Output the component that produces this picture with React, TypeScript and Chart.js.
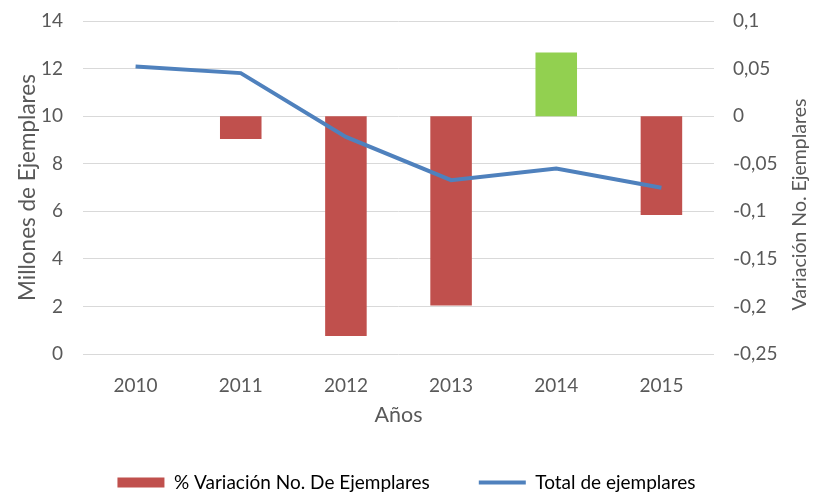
import React, { useEffect, useRef } from "react";
import { Chart, registerables } from "chart.js";

Chart.register(...registerables);

const categories = ["2010", "2011", "2012", "2013", "2014", "2015"];
const variacion: (number | null)[] = [null, -0.024, -0.231, -0.199, 0.067, -0.104];
const totalEjemplares = [12.09, 11.81, 9.13, 7.31, 7.8, 6.99];
const barColors = ["#C0504D", "#C0504D", "#C0504D", "#C0504D", "#92D050", "#C0504D"];

const barLabel = "% Variación No. De Ejemplares";
const lineLabel = "Total de ejemplares";
const leftTitle = "Millones de Ejemplares";
const rightTitle = "Variación No. Ejemplares";
const xTitle = "Años";

const FONT = "Lato, 'Open Sans', sans-serif";
const TEXT = "#595959";
const FS = 19;

const rightTitlePlugin = {
  id: "rightTitle",
  afterDraw(chart: any) {
    const s = chart.scales.y1;
    const ctx = chart.ctx;
    ctx.save();
    ctx.translate(s.right - 13, (s.top + s.bottom) / 2 + 17);
    ctx.rotate(-Math.PI / 2);
    ctx.textAlign = "center";
    ctx.textBaseline = "middle";
    ctx.font = `19.5px ${FONT}`;
    ctx.fillStyle = TEXT;
    ctx.fillText(rightTitle, 0, 0);
    ctx.restore();
  },
};

export default function App() {
  const ref = useRef<HTMLCanvasElement>(null);
  useEffect(() => {
    if (!ref.current) return;
    const chart = new Chart(ref.current, {
      type: "bar",
      data: {
        labels: categories,
        datasets: [
          {
            type: "bar",
            label: barLabel,
            data: variacion,
            backgroundColor: barColors,
            yAxisID: "y1",
            order: 2,
            barPercentage: 0.395,
            categoryPercentage: 1,
          },
          {
            type: "line",
            label: lineLabel,
            data: totalEjemplares,
            borderColor: "#4F81BD",
            backgroundColor: "#4F81BD",
            borderWidth: 4,
            pointRadius: 0,
            tension: 0,
            yAxisID: "y",
            order: 1,
          },
        ],
      },
      options: {
        responsive: false,
        animation: false,
        layout: { padding: { top: 21, left: 0, right: 0, bottom: -10 } },
        plugins: {
          tooltip: { enabled: false },
          legend: {
            position: "bottom",
            labels: {
              usePointStyle: true,
              pointStyleWidth: 47,
              boxHeight: 10,
              padding: 49,
              color: TEXT,
              font: { family: FONT, size: FS },
              generateLabels: () => [
                {
                  text: barLabel,
                  fillStyle: "#C0504D",
                  strokeStyle: "#C0504D",
                  lineWidth: 0,
                  pointStyle: "rect",
                  datasetIndex: 0,
                  hidden: false,
                },
                {
                  text: lineLabel,
                  fillStyle: "#4F81BD",
                  strokeStyle: "#4F81BD",
                  lineWidth: 4,
                  pointStyle: "line",
                  datasetIndex: 1,
                  hidden: false,
                },
              ],
            },
          },
        },
        scales: {
          x: {
            offset: true,
            grid: { display: false, drawTicks: false },
            border: { display: false },
            ticks: { color: TEXT, font: { family: FONT, size: FS }, padding: 20, maxRotation: 0 },
            title: {
              display: true,
              text: xTitle,
              color: TEXT,
              font: { family: FONT, size: 21.5, lineHeight: 1 },
              padding: { top: 0, bottom: -2 },
            },
            afterFit: (s: any) => {
              s.height = 70;
            },
          },
          y: {
            position: "left",
            min: 0,
            max: 14,
            ticks: { stepSize: 2, color: TEXT, font: { family: FONT, size: FS }, padding: 20 },
            grid: { color: "#D9D9D9", lineWidth: 1, drawTicks: false },
            border: { display: false },
            title: {
              display: true,
              text: leftTitle,
              color: TEXT,
              font: { family: FONT, size: 22.5 },
              padding: { top: 14.5, bottom: 0 },
            },
            afterFit: (s: any) => {
              s.width = 83;
              s.paddingTop = 0;
              s.paddingBottom = 0;
            },
          },
          y1: {
            position: "right",
            min: -0.25,
            max: 0.1,
            ticks: {
              stepSize: 0.05,
              color: TEXT,
              font: { family: FONT, size: FS },
              padding: 19,
              callback: (v: any) => {
                const s = parseFloat(Number(v).toFixed(2)).toString();
                return s.replace(".", ",");
              },
            },
            grid: { display: false, drawTicks: false },
            border: { display: false },
            afterFit: (s: any) => {
              s.width = 99;
              s.paddingTop = 0;
              s.paddingBottom = 0;
            },
          },
        },
      },
      plugins: [rightTitlePlugin],
    });
    return () => chart.destroy();
  }, []);
  return (
    <div style={{ position: "fixed", left: 0, top: 0, width: 813, height: 492, background: "#fff" }}>
      <canvas ref={ref} width={813} height={492} style={{ display: "block" }} />
    </div>
  );
}
